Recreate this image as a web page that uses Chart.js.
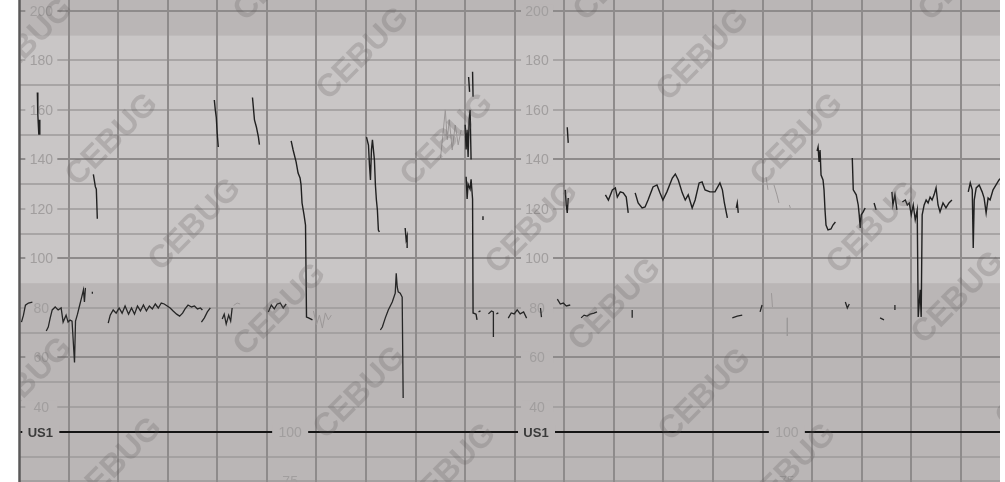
<!DOCTYPE html>
<html>
<head>
<meta charset="utf-8">
<title>CTG</title>
<script src="https://cdn.jsdelivr.net/npm/chart.js@4.4.0/dist/chart.umd.min.js"></script>
<style>
  html, body { margin: 0; padding: 0; background: #ffffff; }
  #wrap { position: relative; width: 1005px; height: 482px; }
</style>
</head>
<body>
<div id="wrap"><canvas id="ctg"></canvas></div>
<script>
// Time in minutes (one grid column per minute), rates in bpm. null breaks the trace.

// Fetal heart rate trace (upper)
const fhrTime = [
  0.37, 0.38, 0.40, 0.41, 0.42, null,
  1.50, 1.54, 1.56, 1.58, null,
  3.94, 3.96, 3.98, 4.00, 4.02, null,
  4.71, 4.75, 4.79, 4.83, 4.85, null,
  5.49, 5.53, 5.59, 5.63, 5.67, 5.69, 5.71, 5.75, 5.78, 5.80, 5.84, 5.92, null,
  7.01, 7.05, 7.07, 7.09, 7.11, 7.13, 7.17, 7.19, 7.21, 7.23, 7.25, 7.27, null,
  7.79, 7.81, 7.83, 7.83, null,
  9.07, 9.09, null,
  9.15, 9.16, null,
  9.00, 9.02, 9.04, 9.06, 9.08, 9.10, 9.12, null,
  9.02, 9.04, 9.06, 9.10, 9.12, 9.15, 9.16, 9.22, 9.24, null,
  9.36, 9.36, null,
  11.06, 11.08, null,
  11.02, 11.04, 11.06, 11.08, null,
  11.83, 11.89, 11.97, 12.03, 12.07, 12.13, 12.19, 12.25, 12.29, null,
  12.43, 12.49, 12.57, 12.63, 12.69, 12.79, 12.87, 12.93, 12.99, 13.07, 13.18, 13.24, 13.30, 13.38,
  13.44, 13.50, 13.58, 13.64, 13.72, 13.78, 13.84, 13.94, 14.04, 14.14, 14.19, 14.23, 14.29, null,
  14.47, 14.49, 14.51, null,
  16.10, 16.12, 16.14, 16.16, 16.18, 16.22, 16.24, 16.26, 16.28, 16.32, 16.38, 16.42, 16.47, null,
  16.81, 16.83, 16.89, 16.93, 16.95, 16.97, 16.99, 17.03, 17.07, null,
  17.25, 17.29, null,
  17.61, 17.63, 17.67, 17.71, null,
  17.82, 17.88, 17.92, 17.96, 18.00, 18.04, 18.08, 18.12, 18.14, 18.18, 18.20, 18.22, 18.26,
  18.30, 18.34, 18.38, 18.42, 18.46, 18.50, 18.54, 18.58, 18.64, 18.70, 18.76, 18.82, null,
  19.15, 19.19, 19.23, 19.25, 19.27, 19.31, 19.37, 19.43, 19.47, 19.51, 19.55, 19.59, 19.65, 19.71, 19.77, 19.81
];
const fhrRate = [
  167, 158, 150, 156, 150, null,
  134, 129, 128, 116, null,
  164, 160, 157, 150, 145, null,
  165, 156, 153, 149, 146, null,
  147.5, 143.8, 139, 134.5, 132.5, 129.7, 122.4, 117.6, 113.5, 76.3, 76, 75.2, null,
  149, 145.8, 137.8, 131.7, 143.8, 147.9, 139.8, 129.7, 123.6, 119.6, 111.5, 110.7, null,
  112.3, 107.5, 109, 104.2, null,
  173.3, 167.3, null,
  175.4, 165.3, null,
  154, 144, 152, 141, 156, 160, 140, null,
  133, 124, 130, 128, 132, 124, 78, 77.5, 75.2, null,
  117, 115.5, null,
  153, 146.7, null,
  127.7, 121.6, 118.4, 124.4, null,
  125.7, 123.6, 127.7, 128.5, 124.8, 126.9, 126.5, 124.8, 118.4, null,
  126.5, 122.4, 120.4, 120.8, 123.6, 128.9, 129.7, 126.5, 123.6, 126.9, 132.5, 134.1, 131.7, 126.5,
  123.6, 125.7, 120.4, 123.6, 130.5, 130.9, 127.7, 126.9, 126.9, 130.5, 127.7, 122.4, 116.4, null,
  120.4, 122.4, 118.4, null,
  143.4, 145, 139, 143.8, 133.7, 131.7, 127.7, 119.6, 113.5, 111.5, 111.9, 113.5, 114.7, null,
  140.6, 127.7, 125.7, 121.6, 117.6, 112.3, 117.6, 118.8, 120.4, null,
  122.4, 119.6, null,
  126.9, 121.6, 125.7, 119.6, null,
  122.8, 123.6, 121.6, 122.4, 117.6, 121.6, 115.6, 119.6, 76.4, 87.3, 76.4, 117.6, 121.6,
  123.6, 122.4, 124.8, 123.6, 125.7, 128.5, 121.6, 118.8, 122.4, 120.4, 122.4, 123.6, null,
  126.9, 130.5, 127.7, 104.2, 123.6, 128.5, 129.7, 126.9, 124.4, 118.4, 124.4, 123.6, 127.7, 129.7, 131.7, 132.5
];

// Lower heart rate trace (around 80 bpm)
const lowTime = [
  0.05, 0.09, 0.13, 0.19, 0.27, null,
  0.55, 0.59, 0.63, 0.67, 0.73, 0.79, 0.85, 0.89, 0.95, 0.99, 1.03, 1.07, 1.12, 1.14, 1.18, 1.22, 1.26, 1.30, 1.32, 1.34, null,
  1.48, 1.48, null,
  1.80, 1.84, 1.90, 1.96, 2.02, 2.08, 2.14, 2.21, 2.27, 2.33, 2.39, 2.45, 2.51, 2.57, 2.63, 2.69, 2.75,
  2.81, 2.87, 2.93, 2.99, 3.05, 3.11, 3.18, 3.24, 3.30, 3.35, 3.41, 3.48, 3.54, 3.60, 3.66, 3.70, null,
  3.68, 3.74, 3.80, 3.86, null,
  4.10, 4.14, 4.18, 4.23, 4.27, 4.30, null,
  5.03, 5.09, 5.15, 5.21, 5.27, 5.33, 5.39, null,
  7.29, 7.33, 7.39, 7.45, 7.53, 7.59, 7.61, 7.63, 7.65, 7.69, 7.73, 7.75, null,
  9.27, 9.31, null,
  9.47, 9.53, 9.57, 9.57, null,
  9.63, 9.67, null,
  9.87, 9.93, 9.99, 10.05, 10.11, 10.18, 10.24, null,
  10.52, 10.54, null,
  10.86, 10.92, 10.98, 11.04, 11.12, null,
  11.34, 11.40, 11.46, 11.52, 11.60, 11.66, null,
  12.37, 12.37, null,
  14.39, 14.49, 14.59, null,
  14.95, 14.99, null,
  16.67, 16.71, 16.75, null,
  17.37, 17.45, null,
  17.67, 17.67
];
const lowRate = [
  74.3, 77.1, 81.1, 82, 82.4, null,
  70.7, 72.3, 76, 79.2, 80.4, 79.2, 80, 74.3, 77.1, 74.3, 75.1, 74.7, 58, 74.7, 77.5, 80.8, 84, 87.3, 82.4, 88.1, null,
  86.5, 85.7, null,
  73.9, 77.1, 79.2, 77.9, 80, 77.9, 80.8, 77.5, 80, 77.5, 80.8, 78.8, 81.2, 78.8, 80.8, 79.6, 81.6,
  80, 82, 81.6, 80.8, 80, 78.8, 77.5, 76.7, 77.9, 79.6, 81.2, 80.4, 80.8, 79.6, 80, 79.2, null,
  74.3, 76, 78.4, 80, null,
  75.5, 77.5, 73.5, 77.1, 74.7, 80, null,
  78.4, 81.2, 79.6, 81.6, 82, 80, 81.6, null,
  71.1, 72.3, 76, 79.2, 82.4, 86, 94, 88.5, 86.5, 86, 84.4, 43.6, null,
  78.4, 78.8, null,
  77.6, 78.8, 78.4, 68.3, null,
  77.6, 78.0, null,
  75.9, 78, 77.6, 79.2, 77.6, 78.4, 75.9, null,
  80, 76.3, null,
  83.6, 81.6, 82, 80.8, 81.2, null,
  76, 77.1, 76.7, 77.5, 77.9, 78.4, null,
  79.2, 76, null,
  76, 76.7, 77.1, null,
  78.4, 81.2, null,
  82.4, 80, 81.6, null,
  76, 75.2, null,
  81.2, 79.2
];

// Low-quality signal, drawn faint
const weakTime = [
  4.33, 4.40, 4.46, null,
  5.94, 6.00, 6.06, 6.12, 6.18, 6.24, 6.30, null,
  8.50, 8.56, 8.60, 8.64, 8.68, 8.74, 8.80, 8.86, 8.92, null,
  15.07, 15.11, null,
  15.23, 15.29, 15.33, null,
  15.54, 15.56, null,
  15.18, 15.20, null,
  15.50, 15.50
];
const weakRate = [
  81, 82, 81.6, null,
  78.8, 73.1, 77.1, 71.9, 78, 75.2, 77.1, null,
  139.8, 151.9, 160, 147.9, 156, 143.8, 153.9, 145.9, 151.9, null,
  132.9, 127.7, null,
  129.7, 125.7, 122.4, null,
  121.6, 120.4, null,
  86, 80.4, null,
  76, 68.7
];

// Scale labels
const bpmTicks = [200, 180, 160, 140, 120, 100, 80, 60, 40];
const bpmLabelCols = [0.45, 10.45];
const ucLabels = ['100', '75'];
const ucLabelCols = [5.47, 15.49];
const channelName = 'US1';
const channelLevel = 30;
const watermarkText = 'CEBUG';

// Paper look
const paper = {
  light: '#c9c6c6',
  dark: '#bab6b6',
  grid: '#8e8b8b',
  gridThin: '#9d9a9a',
  label: '#a19e9e',
  bandHigh: 190,
  bandLow: 90,
  boldLines: [200, 140, 100, 60],
  // watermark centres in canvas pixels
  marks: [
    [27, 45], [112, 140], [195, 225], [280, 310], [360, 393], [450, 470],
    [280, -25], [363, 54], [447, 140], [532, 228], [615, 305], [705, 395], [790, 470],
    [620, -25], [703, 55], [797, 140], [873, 228], [958, 298], [1042, 382],
    [965, -25], [1045, 55], [26, 384], [116, 464]
  ]
};

function toPoints(times, rates) {
  let last = 0;
  return times.map((t, i) => {
    if (t !== null) last = t;
    return { x: last, y: rates[i] };
  });
}

const FONT = '"Liberation Sans", Arial, sans-serif';

const ctgPaper = {
  id: 'ctgPaper',
  beforeDatasetsDraw(chart) {
    const { ctx, chartArea: a, scales: { x, y } } = chart;
    const bandColor = v => (v >= paper.bandHigh || v <= paper.bandLow) ? paper.dark : paper.light;
    ctx.save();
    ctx.beginPath();
    ctx.rect(a.left, a.top, a.width, a.height);
    ctx.clip();

    // background bands
    const yHi = y.getPixelForValue(paper.bandHigh);
    const yLo = y.getPixelForValue(paper.bandLow);
    ctx.fillStyle = paper.dark;
    ctx.fillRect(a.left, a.top, a.width, a.height);
    ctx.fillStyle = paper.light;
    ctx.fillRect(a.left, yHi, a.width, yLo - yHi);

    // horizontal grid every 10 bpm
    for (let v = 10; v <= 200; v += 10) {
      if (v === paper.bandHigh || v === paper.bandLow) continue;
      const py = Math.round(y.getPixelForValue(v));
      const bold = paper.boldLines.includes(v);
      ctx.strokeStyle = bold ? paper.grid : paper.gridThin;
      ctx.lineWidth = bold ? 2 : 1.4;
      ctx.beginPath();
      ctx.moveTo(a.left, py);
      ctx.lineTo(a.right, py);
      ctx.stroke();
    }

    // vertical grid every minute
    ctx.strokeStyle = paper.grid;
    ctx.lineWidth = 2;
    for (let t = 1; t <= Math.floor(x.max); t++) {
      const px = Math.round(x.getPixelForValue(t));
      ctx.beginPath();
      ctx.moveTo(px, a.top);
      ctx.lineTo(px, a.bottom);
      ctx.stroke();
    }

    // bpm scale labels
    ctx.font = '14px ' + FONT;
    ctx.textAlign = 'center';
    ctx.textBaseline = 'middle';
    bpmLabelCols.forEach(col => {
      const cx = x.getPixelForValue(col);
      bpmTicks.forEach(v => {
        const cy = y.getPixelForValue(v);
        ctx.fillStyle = bandColor(v);
        ctx.fillRect(cx - 16, cy - 6, 32, 12);
        ctx.fillStyle = paper.label;
        ctx.fillText(String(v), cx, cy + 1);
      });
    });

    // channel line with its labels
    const ly = Math.round(y.getPixelForValue(channelLevel));
    ctx.strokeStyle = '#151515';
    ctx.lineWidth = 2;
    ctx.beginPath();
    ctx.moveTo(a.left, ly);
    ctx.lineTo(a.right, ly);
    ctx.stroke();
    bpmLabelCols.forEach(col => {
      const cx = x.getPixelForValue(col) - 1;
      ctx.fillStyle = paper.dark;
      ctx.fillRect(cx - 18, ly - 7, 37, 14);
      ctx.fillStyle = '#3a3a3a';
      ctx.font = 'bold 13px ' + FONT;
      ctx.fillText(channelName, cx, ly + 1);
    });
    ucLabelCols.forEach(col => {
      const cx = x.getPixelForValue(col);
      ctx.fillStyle = paper.dark;
      ctx.fillRect(cx - 18, ly - 7, 36, 14);
      ctx.fillStyle = paper.label;
      ctx.font = '14px ' + FONT;
      ctx.fillText(ucLabels[0], cx, ly + 1);
      ctx.fillText(ucLabels[1], cx, y.getPixelForValue(10) + 1);
    });
    ctx.restore();

    // left edge of the strip
    ctx.save();
    ctx.strokeStyle = '#5a5858';
    ctx.lineWidth = 2.5;
    ctx.beginPath();
    ctx.moveTo(a.left + 0.5, a.top);
    ctx.lineTo(a.left + 0.5, a.bottom);
    ctx.stroke();
    ctx.restore();
  },
  afterDatasetsDraw(chart) {
    const { ctx, chartArea: a } = chart;
    ctx.save();
    ctx.beginPath();
    ctx.rect(a.left + 2, a.top, a.width - 2, a.height);
    ctx.clip();
    ctx.font = 'bold 32px ' + FONT;
    ctx.textAlign = 'center';
    ctx.textBaseline = 'middle';
    ctx.fillStyle = 'rgba(95, 90, 90, 0.24)';
    paper.marks.forEach(([mx, my]) => {
      ctx.save();
      ctx.translate(mx, my);
      ctx.rotate(-Math.PI / 4);
      ctx.fillText(watermarkText, 0, 0);
      ctx.restore();
    });
    ctx.restore();
  }
};

new Chart(document.getElementById('ctg'), {
  type: 'line',
  data: {
    datasets: [
      { label: 'weak', data: toPoints(weakTime, weakRate), borderColor: '#9c9898', borderWidth: 1 },
      { label: 'low', data: toPoints(lowTime, lowRate), borderColor: '#262626', borderWidth: 1.3 },
      { label: 'fhr', data: toPoints(fhrTime, fhrRate), borderColor: '#202020', borderWidth: 1.4 }
    ]
  },
  options: {
    responsive: true,
    maintainAspectRatio: false,
    animation: false,
    spanGaps: false,
    layout: { padding: { left: 19, right: 5, top: 0, bottom: 0 } },
    elements: { point: { radius: 0 }, line: { tension: 0 } },
    plugins: { legend: { display: false }, tooltip: { enabled: false } },
    scales: {
      x: { type: 'linear', min: 0, max: 19.79, display: false },
      y: { type: 'linear', min: 9.7, max: 204.4, display: false }
    }
  },
  plugins: [ctgPaper]
});
</script>
</body>
</html>
